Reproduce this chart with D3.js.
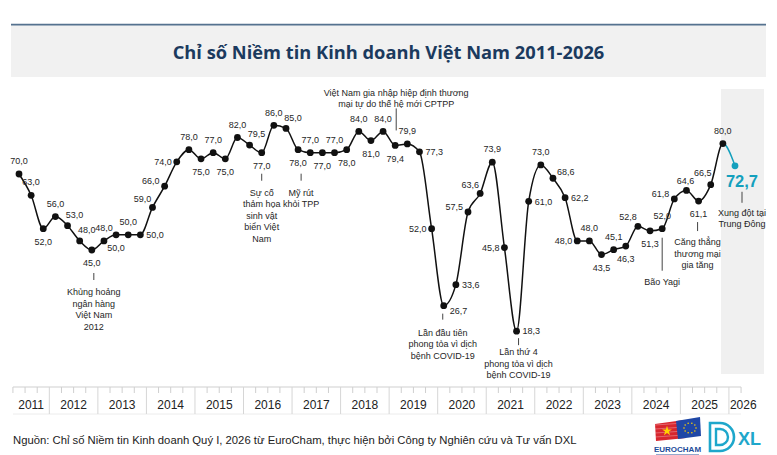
<!DOCTYPE html>
<html><head><meta charset="utf-8">
<script src="https://cdn.jsdelivr.net/npm/d3@7/dist/d3.min.js"></script>
<style>
body{margin:0;background:#fff;}
svg{display:block;font-family:"Liberation Sans",Arial,sans-serif;}
</style></head><body>
<svg id="chart" width="777" height="455"></svg>
<script>
// ---- DATA ----
const quarters = [
 "Q2 2011","Q3 2011","Q4 2011",
 "Q1 2012","Q2 2012","Q3 2012","Q4 2012",
 "Q1 2013","Q2 2013","Q3 2013","Q4 2013",
 "Q1 2014","Q2 2014","Q3 2014","Q4 2014",
 "Q1 2015","Q2 2015","Q3 2015","Q4 2015",
 "Q1 2016","Q2 2016","Q3 2016","Q4 2016",
 "Q1 2017","Q2 2017","Q3 2017","Q4 2017",
 "Q1 2018","Q2 2018","Q3 2018","Q4 2018",
 "Q1 2019","Q2 2019","Q3 2019","Q4 2019",
 "Q1 2020","Q2 2020","Q3 2020","Q4 2020",
 "Q1 2021","Q2 2021","Q3 2021","Q4 2021",
 "Q1 2022","Q2 2022","Q3 2022","Q4 2022",
 "Q1 2023","Q2 2023","Q3 2023","Q4 2023",
 "Q1 2024","Q2 2024","Q3 2024","Q4 2024",
 "Q1 2025","Q2 2025","Q3 2025","Q4 2025",
 "Q1 2026"];
const values = [70.0,63.0,52.0,56.0,53.0,48.0,45.0,48.0,50.0,50.0,50.0,59.0,66.0,74.0,78.0,
 75.0,77.0,75.0,82.0,79.5,77.0,86.0,85.0,78.0,77.0,77.0,77.0,78.0,84.0,81.0,84.0,79.4,79.9,77.3,
 52.0,26.7,33.6,57.5,63.6,73.9,45.8,18.3,61.0,73.0,68.6,62.2,48.0,48.0,43.5,45.1,46.3,52.8,51.3,
 52.0,61.8,64.6,61.1,66.5,80.0,72.7];
const years = ["2011","2012","2013","2014","2015","2016","2017","2018","2019","2020","2021","2022","2023","2024","2025","2026"];
const titleText = "Chỉ số Niềm tin Kinh doanh Việt Nam 2011-2026";
const sourceText = "Nguồn: Chỉ số Niềm tin Kinh doanh Quý I, 2026 từ EuroCham, thực hiện bởi Công ty Nghiên cứu và Tư vấn DXL";
const events = [
 {q:"Q4 2012", lines:["Khủng hoảng","ngân hàng","Việt Nam","2012"]},
 {q:"Q2 2016", lines:["Sự cố","thảm họa","sinh vật","biển Việt","Nam"]},
 {q:"Q1 2017", lines:["Mỹ rút","khỏi TPP"]},
 {q:"Q1 2019", lines:["Việt Nam gia nhập hiệp định thương","mại tự do thế hệ mới CPTPP"]},
 {q:"Q1 2020", lines:["Lần đầu tiên","phong tỏa vì dịch","bệnh COVID-19"]},
 {q:"Q3 2021", lines:["Lần thứ 4","phong tỏa vì dịch","bệnh COVID-19"]},
 {q:"Q3 2024", lines:["Bão Yagi"]},
 {q:"Q2 2025", lines:["Căng thẳng","thương mại","gia tăng"]},
 {q:"Q1 2026", lines:["Xung đột tại","Trung Đông"]}
];

// ---- LAYOUT (label placement codes, not data) ----
const labelPos = ["a","a","b","a","ar","ar","b","a","b","a","r","al","lu","l","a",
 "b","a","b","a","ar","b","a","ar","b","a","b","a","b","a","b","a","b","a","r",
 "l","br","r","lu","al","a","l","r","r","a","ru","r","l","a","b","a","b","al","b",
 "a","lu","a2","b","al2","a","hl"];
const posMap = {a:[0,-13,"middle"], a2:[-1,-10,"middle"], b:[0,13,"middle"], l:[-5,0,"end"], r:[6,0,"start"],
 al:[-10,-9,"middle"], al2:[-8,-12,"middle"], ar:[7,-11,"middle"], lu:[-5,-5,"end"], ru:[4,-6,"start"], br:[6,5,"start"]};
// event layout: tick start/end and first text line offset relative to the point
const eventLayout = [
 {t0:23,t1:30,ty:42,dx:2},
 {t0:21,t1:28,ty:40,dx:0},
 {t0:24,t1:31,ty:43,dx:3},
 {t0:-37,t1:-15,ty:-53,dx:1},
 {t0:8,t1:14,ty:27,dx:-1},
 {t0:7,t1:14,ty:21,dx:2},
 {t0:9,t1:42,ty:53,dx:0},
 {t0:21,t1:30,ty:41,dx:-1},
 {t0:26,t1:37,ty:47,dx:7}
];

const teal = "#14a0bd";
const ink = "#111";
const textCol = "#262626";

const svg = d3.select("#chart");
const x = d3.scalePoint().domain(quarters).range([19,735]);
const y = d3.scaleLinear().domain([0,100]).range([386.8,82.8]);
const step = x.step();
const n = values.length;

// ---- Header ----
svg.append("rect").attr("x",11).attr("y",25).attr("width",755).attr("height",52).attr("fill","#f1f1f1");
svg.append("line").attr("x1",11).attr("x2",766).attr("y1",24.6).attr("y2",24.6)
  .attr("stroke","#55728f").attr("stroke-width",1.6);
const title = svg.append("text").attr("x",388.5).attr("y",58.5).attr("text-anchor","middle")
  .attr("fill","#1b3a5e").attr("font-family","'Open Sans',sans-serif").attr("font-weight",700)
  .attr("font-size",18).text(titleText);
{
  const len = title.node().getComputedTextLength();
  title.attr("font-size", 18*432/len);
}

// ---- Highlight band for the last quarter ----
const lastX = x(quarters[n-1]);
svg.append("rect").attr("x",lastX-14).attr("y",89).attr("width",43).attr("height",285).attr("fill","#f0f0f0");

// ---- Axis ----
const axTop = 387, axBot = 414;
const leftEdge = x(quarters[0]) - step/2, rightEdge = x(quarters[n-1]) + step/2;
const axis = svg.append("g");
axis.append("line").attr("x1",leftEdge).attr("x2",rightEdge).attr("y1",axTop).attr("y2",axTop)
  .attr("stroke","#cfcfcf").attr("stroke-width",1);
axis.append("line").attr("x1",leftEdge).attr("x2",rightEdge).attr("y1",axBot).attr("y2",axBot)
  .attr("stroke","#ececec").attr("stroke-width",1);
quarters.forEach((q,i)=>{
  const bx = x(q) - step/2;
  const isYearStart = q.startsWith("Q1") && i>0;
  axis.append("line").attr("x1",bx).attr("x2",bx).attr("y1",axTop).attr("y2",isYearStart?axBot:axTop+6)
    .attr("stroke",isYearStart?"#d6d6d6":"#cfcfcf").attr("stroke-width",1);
});
axis.append("line").attr("x1",rightEdge).attr("x2",rightEdge).attr("y1",axTop).attr("y2",axTop+6)
  .attr("stroke","#cfcfcf");
years.forEach(yr=>{
  const qs = quarters.filter(q=>q.endsWith(yr));
  const a = x(qs[0]) - step/2, b = x(qs[qs.length-1]) + step/2;
  const partialEnd = qs.length===1;
  axis.append("text")
    .attr("x", partialEnd ? a+1 : (a+b)/2)
    .attr("y", 408.5)
    .attr("text-anchor", partialEnd ? "start" : "middle")
    .attr("font-size",12).attr("fill","#222").text(yr);
});

// ---- Line ----
const defs = svg.append("defs");
const splitX = x(quarters[n-2]);
defs.append("clipPath").attr("id","clipA").append("rect").attr("x",0).attr("y",0).attr("width",splitX).attr("height",455);
defs.append("clipPath").attr("id","clipB").append("rect").attr("x",splitX).attr("y",0).attr("width",777-splitX).attr("height",455);
const line = d3.line().x((d,i)=>x(quarters[i])).y(d=>y(d)).curve(d3.curveMonotoneX);
svg.append("path").attr("d",line(values)).attr("fill","none").attr("stroke",ink).attr("stroke-width",1.5).attr("clip-path","url(#clipA)");
svg.append("path").attr("d",line(values)).attr("fill","none").attr("stroke",teal).attr("stroke-width",1.5).attr("clip-path","url(#clipB)");

svg.append("g").selectAll("circle").data(values).join("circle")
  .attr("cx",(d,i)=>x(quarters[i])).attr("cy",d=>y(d)).attr("r",3.4)
  .attr("fill",(d,i)=>i===n-1?teal:ink);

// ---- Value labels ----
const fmt = v => d3.format(".1f")(v).replace(".",",");
svg.append("g").selectAll("text").data(values).join("text")
  .each(function(d,i){
    const sel = d3.select(this);
    const px = x(quarters[i]), py = y(d);
    if(labelPos[i]==="hl"){
      sel.attr("x",px+7).attr("y",py+21).attr("text-anchor","middle")
        .attr("font-size",16.5).attr("font-weight",700).attr("fill",teal).text(fmt(d));
    } else {
      const p = posMap[labelPos[i]];
      sel.attr("x",px+p[0]).attr("y",py+p[1]).attr("dy","0.35em").attr("text-anchor",p[2])
        .attr("font-size",9).attr("fill",textCol).text(fmt(d));
    }
  });

// ---- Event annotations ----
const evG = svg.append("g");
events.forEach((ev,k)=>{
  const L = eventLayout[k];
  const i = quarters.indexOf(ev.q);
  const px = x(ev.q), py = y(values[i]);
  const tx = px + L.dx;
  evG.append("line").attr("x1",tx).attr("x2",tx).attr("y1",py+L.t0).attr("y2",py+L.t1)
    .attr("stroke","#444").attr("stroke-width",1);
  ev.lines.forEach((s,j)=>{
    evG.append("text").attr("x",tx).attr("y",py+L.ty+j*11.5).attr("dy","0.35em")
      .attr("text-anchor","middle").attr("font-size",9).attr("fill",textCol).text(s);
  });
});

// ---- Source ----
const src = svg.append("text").attr("x",13).attr("y",444).attr("font-size",12).attr("fill","#222").text(sourceText);
{
  const len = src.node().getComputedTextLength();
  src.attr("font-size", 12*564/len);
}

// ---- Logos ----
const lg = svg.append("g");
// EuroCham flag-like brush
lg.append("path").attr("d","M655,424 L684,420 L686,438 L656,441 Z").attr("fill","#d8262e");
[425,429,433,437].forEach(yy=>lg.append("line").attr("x1",655).attr("x2",684).attr("y1",yy).attr("y2",yy-2)
  .attr("stroke","#fff").attr("stroke-width",0.5).attr("opacity",0.6));
lg.append("path").attr("d",d3.symbol().type(d3.symbolStar).size(30)()).attr("transform","translate(667,431)").attr("fill","#ffd200");
lg.append("path").attr("d","M676,421 L700,417 L701,436 L678,439 Z").attr("fill","#1f47a6");
d3.range(10).forEach(k=>{
  const a = k/10*2*Math.PI;
  lg.append("circle").attr("cx",690+6*Math.cos(a)).attr("cy",428+5*Math.sin(a)).attr("r",0.8).attr("fill","#ffd200");
});
lg.append("text").attr("x",677.5).attr("y",452).attr("text-anchor","middle").attr("font-size",8)
  .attr("font-weight",700).attr("fill","#1d4c9a").text("EUROCHAM");
lg.append("line").attr("x1",656).attr("x2",699).attr("y1",454.5).attr("y2",454.5).attr("stroke","#7a93c0").attr("stroke-width",0.8);
// DXL
lg.append("path").attr("d","M710,423 h10 a14,14 0 0 1 0,28 h-10 Z").attr("fill","none").attr("stroke","#1ea7cb").attr("stroke-width",2.6);
lg.append("path").attr("d","M716,429 h4 a8,8 0 0 1 0,16 h-4 Z").attr("fill","none").attr("stroke","#1ea7cb").attr("stroke-width",2.4);
lg.append("text").attr("x",738).attr("y",445).attr("font-size",18).attr("font-weight",700)
  .attr("fill","#1ea7cb").text("XL");
</script>
</body></html>
